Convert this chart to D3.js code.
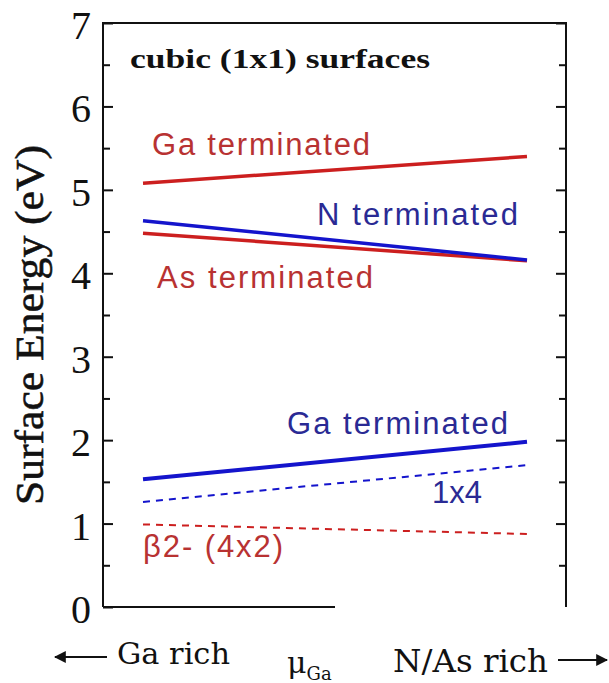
<!DOCTYPE html>
<html>
<head>
<meta charset="utf-8">
<script src="https://cdn.jsdelivr.net/npm/d3@7"></script>
<style>
  html, body { margin: 0; padding: 0; background: #fff; }
  svg { display: block; }
</style>
</head>
<body>
<div id="chart"></div>
<script>
// mu_Ga runs from Ga rich (0) to N/As rich (1)
var muGa = [0, 1];

// surface energies (eV) at the two ends
var gaTermCubic = [5.08, 5.40];
var nTerm       = [4.63, 4.16];
var asTerm      = [4.48, 4.15];
var gaTermLow   = [1.53, 1.98];
var rec1x4      = [1.26, 1.70];
var beta2       = [0.99, 0.875];

var yTicks = [0, 1, 2, 3, 4, 5, 6, 7];
var yMinor = [0.5, 1.5, 2.5, 3.5, 4.5, 5.5, 6.5];

var RED = "#cc1f1f", RED_TXT = "#b83232";
var BLUE = "#1414cc", BLUE_TXT = "#2a2a94";

var W = 609, H = 683;
var LEFT = 103, RIGHT = 566, TOP = 23, BOTTOM = 607;
var SERIF = "'Liberation Serif', 'Times New Roman', serif";

var svg = d3.select("#chart").append("svg")
  .attr("width", W).attr("height", H);

var x = d3.scaleLinear().domain([0, 1]).range([143, 527]);
var y = d3.scaleLinear().domain([0, 7]).range([BOTTOM, TOP]);

// frame: left axis, top border, right axis, short bottom axis
var frame = svg.append("g").attr("stroke", "#111").attr("stroke-width", 2).attr("fill", "none");
frame.append("path").attr("d", "M" + LEFT + "," + BOTTOM + "V" + TOP + "H" + RIGHT + "V" + BOTTOM);
frame.append("path").attr("d", "M" + LEFT + "," + BOTTOM + "H335");

// ticks point inward on both sides
var gl = svg.append("g").attr("transform", "translate(" + LEFT + ",0)")
  .call(d3.axisRight(y).tickValues(yTicks).tickSize(10).tickFormat(""));
var glm = svg.append("g").attr("transform", "translate(" + LEFT + ",0)")
  .call(d3.axisRight(y).tickValues(yMinor).tickSize(7).tickFormat(""));
var gr = svg.append("g").attr("transform", "translate(" + RIGHT + ",0)")
  .call(d3.axisLeft(y).tickValues(yTicks.slice(1)).tickSize(10).tickFormat(""));
var grm = svg.append("g").attr("transform", "translate(" + RIGHT + ",0)")
  .call(d3.axisLeft(y).tickValues(yMinor).tickSize(7).tickFormat(""));
[gl, glm, gr, grm].forEach(function (g) {
  g.select(".domain").remove();
  g.selectAll(".tick line").attr("stroke", "#111").attr("stroke-width", 2);
});

svg.append("g").selectAll("text").data(yTicks).enter().append("text")
  .attr("x", 91)
  .attr("y", function (d) { return y(d) + 16; })
  .attr("text-anchor", "end")
  .style("font-family", SERIF)
  .style("font-size", "40px")
  .attr("fill", "#111")
  .text(function (d) { return d; });

// y label
svg.append("text")
  .attr("transform", "translate(43,325) rotate(-90)")
  .attr("text-anchor", "middle")
  .attr("textLength", 360).attr("lengthAdjust", "spacingAndGlyphs")
  .style("font-family", SERIF)
  .style("font-size", "41px")
  .attr("fill", "#111").attr("stroke", "#111").attr("stroke-width", 0.6)
  .text("Surface Energy (eV)");

// title
svg.append("text")
  .attr("x", 130).attr("y", 68)
  .attr("textLength", 300).attr("lengthAdjust", "spacingAndGlyphs")
  .style("font-family", SERIF)
  .style("font-size", "27px").style("font-weight", "bold")
  .attr("fill", "#111")
  .text("cubic (1x1) surfaces");

// lines
var line = d3.line()
  .x(function (d, i) { return x(muGa[i]); })
  .y(function (d) { return y(d); });

var series = [
  { v: gaTermCubic, c: RED, w: 3.5, dash: null },
  { v: asTerm, c: RED, w: 3.5, dash: null },
  { v: nTerm, c: BLUE, w: 3.5, dash: null },
  { v: gaTermLow, c: BLUE, w: 4, dash: null },
  { v: rec1x4, c: BLUE, w: 2, dash: "7,6" },
  { v: beta2, c: RED, w: 2, dash: "7,6" }
];

svg.append("g").selectAll("path").data(series).enter().append("path")
  .attr("d", function (d) { return line(d.v); })
  .attr("fill", "none")
  .attr("stroke", function (d) { return d.c; })
  .attr("stroke-width", function (d) { return d.w; })
  .attr("stroke-dasharray", function (d) { return d.dash; });

// line labels
var labels = [
  { t: "Ga terminated", x: 152, y: 155, len: 218, c: RED_TXT },
  { t: "N terminated", x: 317, y: 225, len: 201, c: BLUE_TXT },
  { t: "As terminated", x: 157, y: 288, len: 216, c: RED_TXT },
  { t: "Ga terminated", x: 287, y: 434, len: 221, c: BLUE_TXT },
  { t: "1x4", x: 432, y: 503, len: 50, c: BLUE_TXT },
  { t: "\u03b22- (4x2)", x: 143, y: 557, len: 140, c: RED_TXT }
];

svg.append("g").selectAll("text").data(labels).enter().append("text")
  .attr("x", function (d) { return d.x; })
  .attr("y", function (d) { return d.y; })
  .attr("textLength", function (d) { return d.len; })
  .attr("lengthAdjust", "spacing")
  .style("font-family", "'Liberation Sans', Arial, sans-serif")
  .style("font-size", "31px")
  .attr("fill", function (d) { return d.c; })
  .text(function (d) { return d.t; });

// bottom: chemical potential direction
var serif2 = "'DejaVu Serif', 'Liberation Serif', serif";
svg.append("text")
  .attr("x", 117).attr("y", 664)
  .attr("textLength", 113).attr("lengthAdjust", "spacingAndGlyphs")
  .style("font-family", serif2).style("font-size", "30px")
  .attr("fill", "#111").text("Ga rich");
svg.append("text")
  .attr("x", 393).attr("y", 672)
  .attr("textLength", 155).attr("lengthAdjust", "spacingAndGlyphs")
  .style("font-family", serif2).style("font-size", "32px")
  .attr("fill", "#111").text("N/As rich");

var mu = svg.append("text")
  .attr("x", 287).attr("y", 673)
  .style("font-family", serif2).style("font-size", "30px")
  .attr("fill", "#111");
mu.append("tspan").text("\u03bc");
mu.append("tspan").attr("dy", 7).style("font-size", "18px").text("Ga");

// arrows
svg.append("defs").append("marker")
  .attr("id", "head").attr("viewBox", "0 0 10 10")
  .attr("refX", 9).attr("refY", 5)
  .attr("markerWidth", 12).attr("markerHeight", 12)
  .attr("markerUnits", "userSpaceOnUse")
  .attr("orient", "auto")
  .append("path").attr("d", "M0,0L10,5L0,10z").attr("fill", "#111");

svg.append("line")
  .attr("x1", 107).attr("y1", 657).attr("x2", 55).attr("y2", 657)
  .attr("stroke", "#111").attr("stroke-width", 2).attr("marker-end", "url(#head)");
svg.append("line")
  .attr("x1", 558).attr("y1", 660).attr("x2", 607).attr("y2", 660)
  .attr("stroke", "#111").attr("stroke-width", 2).attr("marker-end", "url(#head)");
</script>
</body>
</html>
